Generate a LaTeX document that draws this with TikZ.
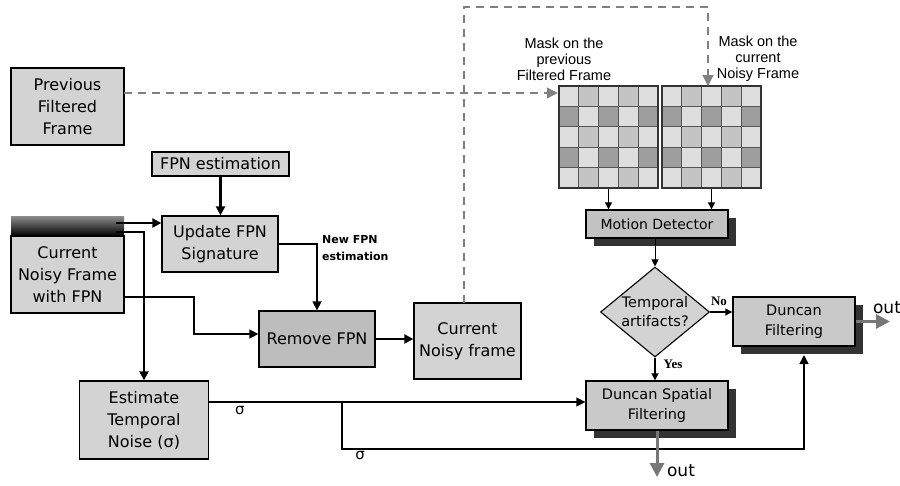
\documentclass[tikz,border=0pt]{standalone}
\usepackage{fontspec}
\setmainfont{DejaVu Sans}
\newfontfamily\arialf{Liberation Sans}
\newfontfamily\timesf{Liberation Serif}
\usetikzlibrary{arrows.meta,shapes.geometric,shadows,calc}
\definecolor{boxlight}{HTML}{D3D3D3}
\definecolor{boxmid}{HTML}{BDBDBD}
\definecolor{boxmd}{HTML}{C2C2C2}
\definecolor{boxdf}{HTML}{C9C9C9}
\definecolor{shadowc}{HTML}{333333}
\definecolor{gl}{HTML}{DEDEDE}
\definecolor{gm}{HTML}{C4C4C4}
\definecolor{gd}{HTML}{9E9E9E}
\definecolor{dashc}{HTML}{808080}
\definecolor{outc}{HTML}{777777}
\tikzset{
  box/.style={draw=black, line width=1.3pt, fill=boxlight, inner sep=0pt, align=center,
    font=\fontsize{16}{22}\selectfont},
  sbox/.style={box, general shadow={fill=shadowc, shadow xshift=8pt, shadow yshift=-8pt},
    font=\fontsize{14.5}{19.5}\selectfont},
  arr/.style={-{Triangle[length=9pt,width=9pt]}},
  sarr/.style={-{Triangle[length=7pt,width=7pt]}},
  lwa/.style={line width=2.2pt},
  lwb/.style={line width=1.5pt},
  lwc/.style={line width=1pt},
  dashline/.style={draw=dashc, line width=1.3pt, dash pattern=on 8pt off 6pt},
  garr/.style={-{Triangle[length=11pt,width=11pt]}, dashc},
  outarr/.style={draw=outc, line width=3pt, -{Triangle[length=14pt,width=14pt]}, outc},
  masklbl/.style={align=center, font=\arialf\fontsize{14.5}{16}\selectfont},
  gridbox/.style={draw=shadowc, line width=2.5pt, inner sep=0pt, minimum width=99pt, minimum height=102pt},
}
\begin{document}
\begin{tikzpicture}[x=1pt,y=-1pt]
\useasboundingbox (0,0) rectangle (900,485);

% ---------- boxes ----------
\node[box, minimum width=113pt, minimum height=77pt] (prev) at (67.5,106.5) {Previous\\Filtered\\Frame};
\node[box, minimum width=137pt, minimum height=24pt] (fpnest) at (220.5,164) {FPN estimation};
\node[box, minimum width=116pt, minimum height=56pt] (update) at (220,244) {Update FPN\\Signature};
\node[draw=none, inner sep=0pt, minimum width=113pt, minimum height=20pt,
      top color={rgb,255:red,140;green,140;blue,140}, middle color={rgb,255:red,95;green,95;blue,95},
      bottom color=black] (strip) at (67.5,226) {};
\node[box, minimum width=113pt, minimum height=77pt] (cur) at (67.5,274.5) {Current\\Noisy Frame\\with FPN};
\node[box, fill=boxmid, minimum width=116pt, minimum height=56pt] (remove) at (317,339) {Remove FPN};
\node[box, minimum width=107pt, minimum height=76pt] (curnoisy) at (467.5,341) {Current\\Noisy frame};
\node[box, minimum width=129pt, minimum height=78pt] (est) at (144,420) {Estimate\\Temporal\\Noise (σ)};

% ---------- grids ----------
\foreach \gx in {559,662}{
  \foreach \r in {0,...,4}{
    \foreach \c in {0,...,4}{
      \pgfmathtruncatemacro\k{mod(\r,2)*2+mod(\c,2)}
      \ifcase\k \def\cc{gl}\or \def\cc{gm}\or \def\cc{gd}\or \def\cc{gl}\fi
      \fill[\cc] (\gx+\c*19.8,86+\r*20.4) rectangle ++(19.8,20.4);
    }
  }
  \foreach \i in {1,...,4}{
    \draw[line width=0.9pt, draw={rgb,255:red,85;green,85;blue,85}] (\gx+\i*19.8,86) -- (\gx+\i*19.8,188);
    \draw[line width=0.9pt, draw={rgb,255:red,85;green,85;blue,85}] (\gx,86+\i*20.4) -- (\gx+99,86+\i*20.4);
  }
}
\node[gridbox] (gridL) at (608.5,137) {};
\node[gridbox] (gridR) at (711.5,137) {};

\node[masklbl] (lblL) at (564,59) {Mask on the\\previous\\Filtered Frame};
\node[masklbl] (lblR) at (758,59) {Mask on the\\current\\Noisy Frame};

% ---------- right part ----------
\node[sbox, fill=boxmd, minimum width=142pt, minimum height=28pt, font=\fontsize{14}{18}\selectfont] (motion) at (657,224) {Motion Detector};
\node[draw=black, line width=1.1pt, fill=boxlight, diamond, shape aspect=1.2, inner sep=0pt,
      minimum width=109pt, minimum height=90pt, align=center,
      font=\fontsize{14.5}{19}\selectfont] (diam) at (655,312) {Temporal\\artifacts?};
\node[sbox, fill=boxdf, minimum width=122pt, minimum height=49pt] (dfilt) at (794,321.5) {Duncan\\Filtering};
\node[sbox, fill=boxdf, minimum width=142pt, minimum height=49pt] (dspat) at (657,405.5) {Duncan Spatial\\Filtering};

% ---------- connectors ----------
\draw[lwa, arr] (fpnest.south) -- (fpnest.south |- update.north);

\coordinate (s1) at (116,223);
\draw[lwa, arr] (s1) -- (s1 -| update.west);
\coordinate (s2) at (116,232);
\draw[lwa, arr] (s2) -| (est.north);

\coordinate (c1) at (124,297);
\coordinate (c2) at (194,297);
\coordinate (c3) at (194,334);
\draw[lwb, arr] (c1) -- (c2) -- (c3) -- (c3 -| remove.west);

\coordinate (u1) at (update.east);
\draw[lwb, arr] (u1) -| (remove.north);
\node[anchor=north west, align=left, inner sep=0pt, font=\bfseries\fontsize{11}{17}\selectfont] (newlbl) at (322,235) {New FPN\\estimation};

\draw[lwa, arr] (remove.east) -- (remove.east -| curnoisy.west);

% dashed feedback
\coordinate (d0) at (464,303);
\coordinate (d1) at (464,7);
\coordinate (d2) at (708,7);
\coordinate (d3) at (708,86);
\draw[dashline] (d0) -- (d1) -- (d2) -- ($(d3)+(0,-11)$);
\draw[garr, line width=1.3pt, draw=dashc] ($(d3)+(0,-11)$) -- (d3);
\coordinate (p1) at (124,93);
\coordinate (p2) at (546,93);
\draw[dashline] (p1) -- (p2);
\draw[garr, line width=1.3pt, draw=dashc] (p2) -- (p2 -| gridL.west);

\draw[lwc, sarr] (gridL.south) -- (gridL.south |- motion.north);
\draw[lwc, sarr] (gridR.south) -- (gridR.south |- motion.north);
\draw[lwc, sarr] (motion.south -| diam.north) -- (diam.north);

\draw[lwb, sarr] (diam.east) -- (diam.east -| dfilt.west);
\node[font=\timesf\bfseries\fontsize{13}{15}\selectfont, inner sep=0pt] (nolbl) at (719,301) {No};
\draw[lwb, sarr] (diam.south) -- (diam.south |- dspat.north);
\node[font=\timesf\bfseries\fontsize{13}{15}\selectfont, inner sep=0pt] (yeslbl) at (673,364) {Yes};

\coordinate (e1) at (est.east |- 0,402);
\draw[lwb, arr] (e1) -- (e1 -| dspat.west);
\node[font=\fontsize{15}{17}\selectfont, inner sep=0pt] (sig1) at (240,410) {σ};
\coordinate (b1) at (342,402);
\coordinate (b2) at (342,449);
\coordinate (f1) at (804,355);
\draw[lwb, arr] (b1) -- (b2) -| (f1);
\node[font=\fontsize{15}{17}\selectfont, inner sep=0pt] (sig2) at (360,455) {σ};

\coordinate (o1) at (890,321.5);
\draw[outarr] (dfilt.east) -- (o1);
\node[font=\fontsize{17}{19}\selectfont, inner sep=0pt] (out1) at (887,308) {out};
\coordinate (o2) at (657,477);
\draw[outarr] (dspat.south) -- (o2);
\node[font=\fontsize{17}{19}\selectfont, inner sep=0pt] (out2) at (681,471) {out};
\end{tikzpicture}
\end{document}
